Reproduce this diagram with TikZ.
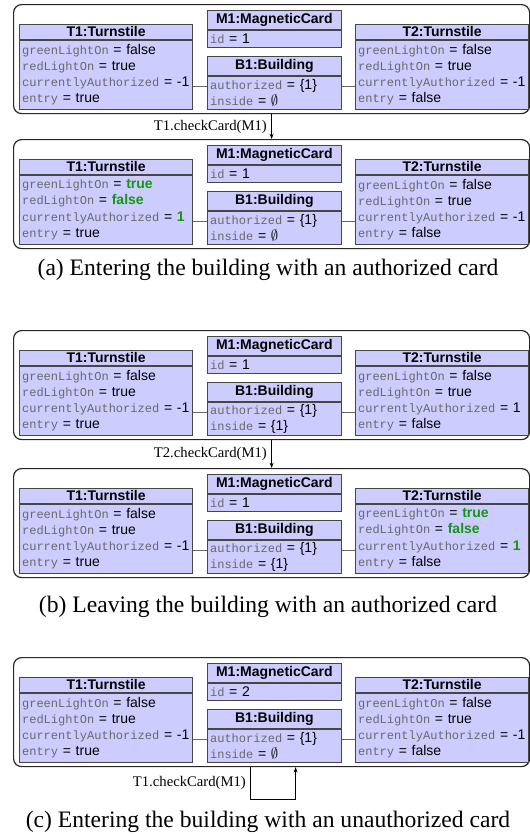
\documentclass[tikz,border=0pt]{standalone}
\usepackage{fontspec}
\setmainfont{Liberation Serif}
\setsansfont{Liberation Sans}
\setmonofont[Scale=0.86]{Liberation Mono}
\usetikzlibrary{positioning,arrows.meta}

\definecolor{objfill}{RGB}{204,204,255}
\definecolor{objline}{RGB}{70,70,70}
\definecolor{attrgray}{RGB}{105,105,105}
\definecolor{newval}{RGB}{20,150,20}

\newcommand{\fld}[2]{{\ttfamily\color{attrgray}#1} = #2}
\newcommand{\chg}[1]{\textcolor{newval}{\bfseries #1}}

\tikzset{
  panel/.style={draw=black!85, line width=0.9pt, rounded corners=6pt,
    minimum width=387pt, minimum height=81.75pt, anchor=north west, inner sep=0pt},
  objhead/.style={draw=objline, fill=objfill, line width=0.6pt, inner sep=0pt,
    font=\sffamily\bfseries\fontsize{10.5}{12}\selectfont},
  objbody/.style={draw=objline, fill=objfill, line width=0.6pt, align=left,
    inner xsep=2pt, inner ysep=0pt, font=\sffamily\fontsize{10.5}{12.2}\selectfont},
  turnhead/.style={objhead, minimum width=130pt, minimum height=11.25pt},
  turnbody/.style={objbody, text width=126pt, minimum height=51.75pt},
  cardhead/.style={objhead, minimum width=100.5pt, minimum height=14.25pt},
  cardbody/.style={objbody, text width=96.5pt, minimum height=12.75pt},
  buildbody/.style={objbody, text width=96.5pt, minimum height=24.75pt},
  link/.style={draw=black!60, line width=0.6pt},
  call/.style={draw=black, line width=0.6pt, -{Stealth[length=4pt,width=3pt]}},
  calllabel/.style={font=\fontsize{11}{13}\selectfont},
  caption/.style={font=\fontsize{17.7}{20}\selectfont}
}

% one system state: name, top (px), T1, M1, B1, T2
\newcommand{\statepanel}[6]{%
  \node[panel] (#1) at (13,#2) {};
  \node[turnhead, anchor=north west] (#1-t1h) at (19,#2+20) {T1:Turnstile};
  \node[turnbody, below=0pt of #1-t1h] (#1-t1) {#3};
  \node[cardhead, anchor=north west] (#1-m1h) at (207,#2+6) {M1:MagneticCard};
  \node[cardbody, below=0pt of #1-m1h] (#1-m1) {#4};
  \node[cardhead, anchor=north west] (#1-b1h) at (207,#2+52) {B1:Building};
  \node[buildbody, below=0pt of #1-b1h] (#1-b1) {#5};
  \node[turnhead, anchor=north west] (#1-t2h) at (355,#2+20) {T2:Turnstile};
  \node[turnbody, below=0pt of #1-t2h] (#1-t2) {#6};
  \draw[link] ([yshift=4.9pt]#1-b1.west) -- ([yshift=4.9pt]#1-b1.west -| #1-t1.east);
  \draw[link] ([yshift=4.9pt]#1-b1.east) -- ([yshift=4.9pt]#1-b1.east -| #1-t2.west);
}

\begin{document}
\begin{tikzpicture}[x=0.75pt, y=-0.75pt]
  \useasboundingbox (0,0) rectangle (530,836);

  % (a)
  \statepanel{sa1}{4}
    {\fld{greenLightOn}{false}\\\fld{redLightOn}{true}\\\fld{currentlyAuthorized}{-1}\\\fld{entry}{true}}
    {\fld{id}{1}}
    {\fld{authorized}{\{1\}}\\\fld{inside}{$\emptyset$}}
    {\fld{greenLightOn}{false}\\\fld{redLightOn}{true}\\\fld{currentlyAuthorized}{-1}\\\fld{entry}{false}}
  \statepanel{sa2}{139}
    {\fld{greenLightOn}{\chg{true}}\\\fld{redLightOn}{\chg{false}}\\\fld{currentlyAuthorized}{\chg{1}}\\\fld{entry}{true}}
    {\fld{id}{1}}
    {\fld{authorized}{\{1\}}\\\fld{inside}{$\emptyset$}}
    {\fld{greenLightOn}{false}\\\fld{redLightOn}{true}\\\fld{currentlyAuthorized}{-1}\\\fld{entry}{false}}
  \draw[call] (sa1.south) -- node[calllabel, left] {T1.checkCard(M1)} (sa2.north);
  \node[caption] (capa) at (268,270) {(a) Entering the building with an authorized card};

  % (b)
  \statepanel{sb1}{330}
    {\fld{greenLightOn}{false}\\\fld{redLightOn}{true}\\\fld{currentlyAuthorized}{-1}\\\fld{entry}{true}}
    {\fld{id}{1}}
    {\fld{authorized}{\{1\}}\\\fld{inside}{\{1\}}}
    {\fld{greenLightOn}{false}\\\fld{redLightOn}{true}\\\fld{currentlyAuthorized}{1}\\\fld{entry}{false}}
  \statepanel{sb2}{468}
    {\fld{greenLightOn}{false}\\\fld{redLightOn}{true}\\\fld{currentlyAuthorized}{-1}\\\fld{entry}{true}}
    {\fld{id}{1}}
    {\fld{authorized}{\{1\}}\\\fld{inside}{\{1\}}}
    {\fld{greenLightOn}{\chg{true}}\\\fld{redLightOn}{\chg{false}}\\\fld{currentlyAuthorized}{\chg{1}}\\\fld{entry}{false}}
  \draw[call] (sb1.south) -- node[calllabel, left] {T2.checkCard(M1)} (sb2.north);
  \node[caption] (capb) at (268,607) {(b) Leaving the building with an authorized card};

  % (c)
  \statepanel{sc}{657}
    {\fld{greenLightOn}{false}\\\fld{redLightOn}{true}\\\fld{currentlyAuthorized}{-1}\\\fld{entry}{true}}
    {\fld{id}{2}}
    {\fld{authorized}{\{1\}}\\\fld{inside}{$\emptyset$}}
    {\fld{greenLightOn}{false}\\\fld{redLightOn}{true}\\\fld{currentlyAuthorized}{-1}\\\fld{entry}{false}}
  \draw[call] ([xshift=-15.75pt]sc.south) -- node[calllabel, left] {T1.checkCard(M1)} ++(0,32)
    -| ([xshift=18pt]sc.south);
  \node[caption] (capc) at (268,822) {(c) Entering the building with an unauthorized card};
\end{tikzpicture}
\end{document}
